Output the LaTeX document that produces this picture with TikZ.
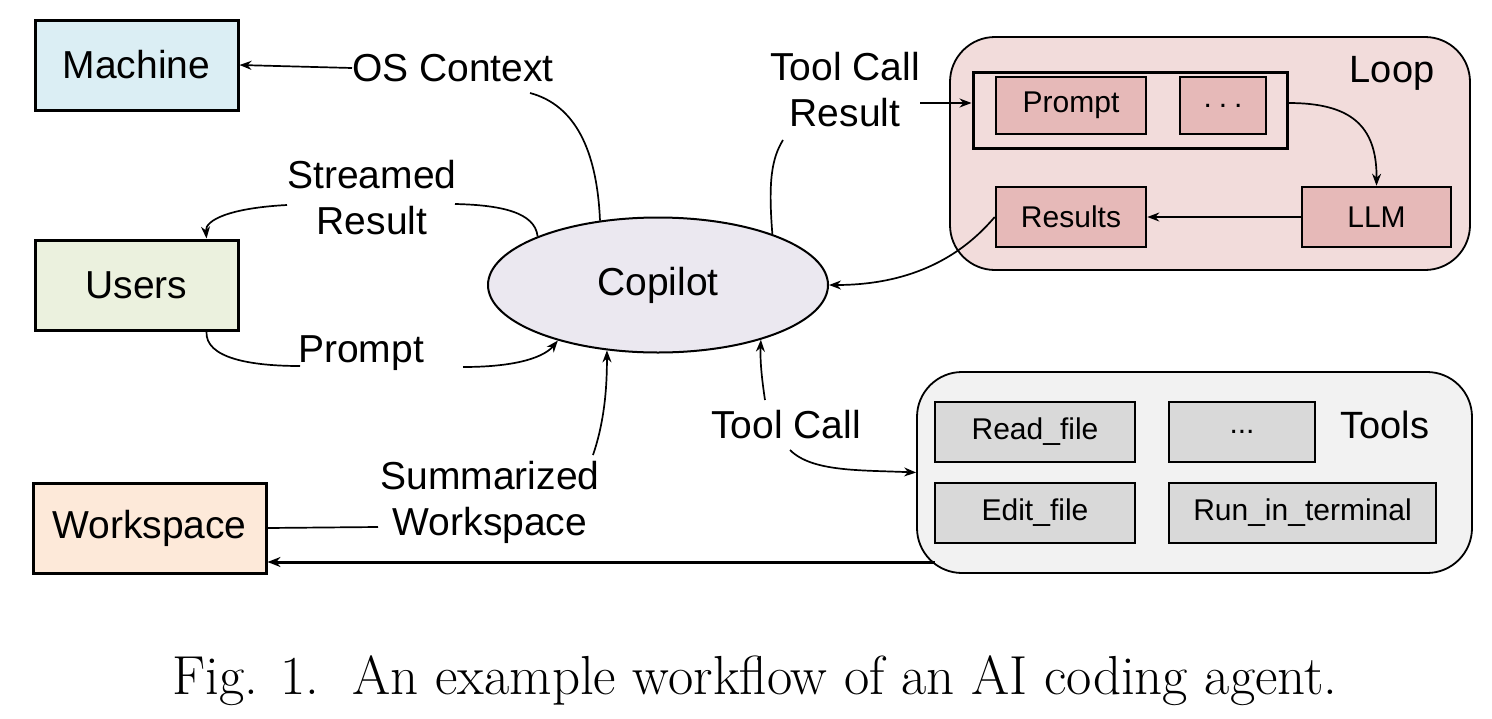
\documentclass[tikz,border=0pt]{standalone}
\usepackage{fontspec}
\setmainfont{Liberation Sans}
\newfontfamily\capfont{Latin Modern Roman}
\usetikzlibrary{arrows.meta,shapes.geometric}
\definecolor{machinec}{RGB}{219,238,244}
\definecolor{usersc}{RGB}{235,241,222}
\definecolor{workc}{RGB}{253,233,217}
\definecolor{copc}{RGB}{235,232,240}
\definecolor{loopc}{RGB}{242,220,219}
\definecolor{loopbox}{RGB}{230,185,184}
\definecolor{toolsc}{RGB}{242,242,242}
\definecolor{toolbox}{RGB}{217,217,217}
\tikzset{
  bigbox/.style={draw, line width=3pt, minimum width=203pt, minimum height=90pt, inner sep=0pt, font=\fontsize{39}{46}\selectfont},
  smallbox/.style={draw, line width=2.6pt, minimum height=57pt, inner sep=0pt, font=\fontsize{30}{36}\selectfont},
  container/.style={draw, line width=1.8pt, rounded corners=45pt, inner sep=0pt},
  lbl/.style={inner sep=0pt, align=center, font=\fontsize{39}{46}\selectfont},
  conn/.style={line width=1.7pt},
  arr/.style={line width=1.7pt, -{Stealth[length=12pt,width=9pt]}},
}
\begin{document}
\begin{tikzpicture}[x=1pt,y=-1pt]
\useasboundingbox[fill=white] (0,0) rectangle (1492,718);
% left boxes
\node[bigbox, fill=machinec] (machine) at (136.5,65) {Machine};
\node[bigbox, fill=usersc] (users) at (136.5,285) {Users};
\node[bigbox, fill=workc, minimum width=233pt] (work) at (149.5,528) {Workspace};
% copilot
\node[ellipse, draw, line width=2pt, fill=copc, minimum width=340pt, minimum height=135pt, inner sep=0pt, font=\fontsize{39}{46}\selectfont] (cop) at (658,285) {Copilot};
% loop container
\node[container, fill=loopc, minimum width=520pt, minimum height=233pt] (loop) at (1210,153.5) {};
\node[draw, line width=3pt, minimum width=314pt, minimum height=76pt, inner sep=0pt] (inner) at (1130,110) {};
\node[smallbox, fill=loopbox, minimum width=150pt] (prompt) at (1071,105.5) {Prompt};
\node[smallbox, fill=loopbox, minimum width=86pt] (dots) at (1223,105.5) {.\hspace{7pt}.\hspace{7pt}.};
\node[smallbox, fill=loopbox, minimum width=149pt, minimum height=60pt] (llm) at (1376.5,217) {LLM};
\node[smallbox, fill=loopbox, minimum width=150pt, minimum height=60pt] (results) at (1071,217) {Results};
\node[inner sep=0pt, font=\fontsize{38}{44}\selectfont] (looplbl) at (1392,73) {Loop};
% tools container
\node[container, fill=toolsc, minimum width=555pt, minimum height=201pt] (tools) at (1194.5,472.5) {};
\node[smallbox, fill=toolbox, minimum width=200pt, minimum height=60pt] (read) at (1035,432) {Read\_file};
\node[smallbox, fill=toolbox, minimum width=146pt, minimum height=60pt] (tdots) at (1242,432) {...};
\node[smallbox, fill=toolbox, minimum width=200pt, minimum height=60pt] (edit) at (1035,513) {Edit\_file};
\node[smallbox, fill=toolbox, minimum width=267pt, minimum height=60pt] (run) at (1302.5,513) {Run\_in\_terminal};
\node[inner sep=0pt, font=\fontsize{38}{44}\selectfont] (toolslbl) at (1385,425) {Tools};
% labels
\node[lbl] (osctx) at (453,68) {OS Context};
\node[lbl] (tcr) at (845,90) {Tool Call\\Result};
\node[lbl] (streamed) at (372,198) {Streamed\\Result};
\node[lbl] (promptlbl) at (361,353) {Prompt};
\node[lbl] (toolcall) at (786,425) {Tool Call};
\node[lbl] (summ) at (490,502) {Summarized\\Workspace};
% free ends
\coordinate (osA) at (530,93);
\coordinate (stA) at (455,204);
\coordinate (stB) at (287,205);
\coordinate (prA) at (300,366);
\coordinate (prB) at (463,367);
\coordinate (suA) at (378,527);
\coordinate (suB) at (593,455);
\coordinate (tcA) at (765,400);
\coordinate (tcB) at (790,450);
\coordinate (trA) at (783,140);
\coordinate (trB) at (920,103);
\coordinate (tlA) at (935,562);
% connectors
\draw[arr] (osctx.west) -- (machine.east);
\draw[conn] (cop.132) .. controls (597,150) and (575,105) .. (osA);
\draw[conn] (cop.158) .. controls (535,212) and (500,205) .. (stA);
\draw[arr] (stB) .. controls (230,208) and (205,220) .. ([xshift=-33pt]users.north east);
\draw[conn] ([xshift=-33pt]users.south east) .. controls (205,358) and (250,366) .. (prA);
\draw[arr] (prB) .. controls (520,367) and (545,356) .. (cop.209);
\draw[conn] (work.east) -- (suA);
\draw[arr] (suB) .. controls (605,420) and (607,385) .. (cop.232);
\draw[arr] (tcA) .. controls (762,380) and (760,362) .. (cop.332);
\draw[arr] (tcB) .. controls (812,472) and (860,470) .. (tools.west);
\draw[conn] (cop.24) .. controls (768,180) and (772,158) .. (trA);
\draw[arr] (trB) -- ([yshift=7pt]inner.west);
\draw[arr] ([yshift=7pt]inner.east) .. controls (1350,103) and (1377,125) .. (llm.north);
\draw[arr] (llm.west) -- (results.east);
\draw[arr] (results.west) .. controls (975,240) and (930,285) .. (cop.east);
\draw[line width=3pt, -{Stealth[length=13pt,width=10pt]}] (tlA) -- (work.east |- tlA);
% caption
\node[inner sep=0pt, font=\capfont\fontsize{55}{66}\selectfont] (cap) at (755,681) {Fig. 1.\ \ An example workflow of an AI coding agent.};
\end{tikzpicture}
\end{document}
